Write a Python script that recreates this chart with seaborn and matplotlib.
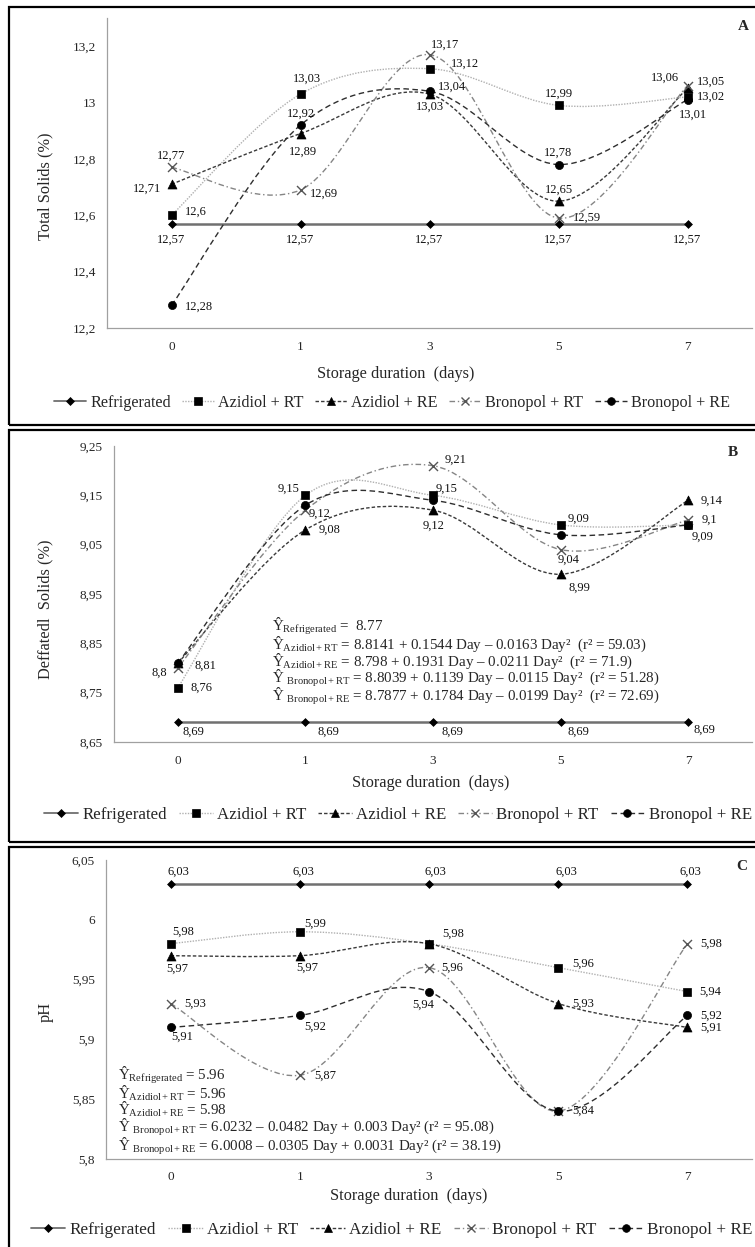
import numpy as np
import pandas as pd
import matplotlib
matplotlib.use("Agg")
import matplotlib.pyplot as plt
from matplotlib.path import Path
from matplotlib.patches import PathPatch, Rectangle
from matplotlib.lines import Line2D
import seaborn as sns

# categories
days = ["0", "1", "3", "5", "7"]
treatments = ["Refrigerated", "Azidiol + RT", "Azidiol + RE", "Bronopol + RT", "Bronopol + RE"]

# A - total solids (%)
ts_refrigerated = [12.57, 12.57, 12.57, 12.57, 12.57]
ts_azidiol_rt = [12.6, 13.03, 13.12, 12.99, 13.02]
ts_azidiol_re = [12.71, 12.89, 13.03, 12.65, 13.05]
ts_bronopol_rt = [12.77, 12.69, 13.17, 12.59, 13.06]
ts_bronopol_re = [12.28, 12.92, 13.04, 12.78, 13.01]
ts_ticks = [12.2, 12.4, 12.6, 12.8, 13.0, 13.2]
ts_ticklabels = ["12,2", "12,4", "12,6", "12,8", "13", "13,2"]

# B - defatted solids (%)
ds_refrigerated = [8.69, 8.69, 8.69, 8.69, 8.69]
ds_azidiol_rt = [8.76, 9.15, 9.15, 9.09, 9.09]
ds_azidiol_re = [8.81, 9.08, 9.12, 8.99, 9.14]
ds_bronopol_rt = [8.80, 9.12, 9.21, 9.04, 9.10]
ds_bronopol_re = [8.81, 9.13, 9.14, 9.07, 9.09]
ds_ticks = [8.65, 8.75, 8.85, 8.95, 9.05, 9.15, 9.25]
ds_ticklabels = ["8,65", "8,75", "8,85", "8,95", "9,05", "9,15", "9,25"]

# C - pH
ph_refrigerated = [6.03, 6.03, 6.03, 6.03, 6.03]
ph_azidiol_rt = [5.98, 5.99, 5.98, 5.96, 5.94]
ph_azidiol_re = [5.97, 5.97, 5.98, 5.93, 5.91]
ph_bronopol_rt = [5.93, 5.87, 5.96, 5.84, 5.98]
ph_bronopol_re = [5.91, 5.92, 5.94, 5.84, 5.92]
ph_ticks = [5.8, 5.85, 5.9, 5.95, 6.0, 6.05]
ph_ticklabels = ["5,8", "5,85", "5,9", "5,95", "6", "6,05"]

# regression equations
eq_b = [
    ("Refrigerated", " =  8.77"),
    ("Azidiol+RT", " = 8.8141 + 0.1544 Day \u2013 0.0163 Day\u00b2  (r\u00b2 = 59.03)"),
    ("Azidiol+RE", " = 8.798 + 0.1931 Day \u2013 0.0211 Day\u00b2  (r\u00b2 = 71.9)"),
    (" Bronopol+RT", " = 8.8039 + 0.1139 Day \u2013 0.0115 Day\u00b2  (r\u00b2 = 51.28)"),
    (" Bronopol+RE", " = 8.7877 + 0.1784 Day \u2013 0.0199 Day\u00b2  (r\u00b2 = 72.69)"),
]
eq_c = [
    ("Refrigerated", " = 5.96"),
    ("Azidiol+RT", " = 5.96"),
    ("Azidiol+RE", " = 5.98"),
    (" Bronopol+RT", " = 6.0232 \u2013 0.0482 Day + 0.003 Day\u00b2 (r\u00b2 = 95.08)"),
    (" Bronopol+RE", " = 6.0008 \u2013 0.0305 Day + 0.0031 Day\u00b2 (r\u00b2 = 38.19)"),
]

sns.set_style("white")
plt.rcParams["font.family"] = ["Liberation Serif", "DejaVu Serif"]
plt.rcParams["mathtext.fontset"] = "custom"
plt.rcParams["mathtext.rm"] = "Liberation Serif"
plt.rcParams["mathtext.it"] = "Liberation Serif:italic"
plt.rcParams["mathtext.bf"] = "Liberation Serif:bold"

styles = {
    "Refrigerated": dict(color="#707070", lw=1.8, ls="-", marker="D", s=16, mc="black", smooth=False),
    "Azidiol + RT": dict(color="#b0b0b0", lw=1.0, ls=(0, (1, 1)), marker="s", s=38, mc="black", smooth=True),
    "Azidiol + RE": dict(color="#3a3a3a", lw=1.0, ls=(0, (2.5, 1.5)), marker="^", s=42, mc="black", smooth=True),
    "Bronopol + RT": dict(color="#858585", lw=1.0, ls=(0, (4, 2, 1, 2)), marker="x", s=42, mc="#555555", smooth=True),
    "Bronopol + RE": dict(color="#2e2e2e", lw=1.0, ls=(0, (4, 2.5)), marker="o", s=34, mc="black", smooth=True),
}

# label offsets (px) per point: (dx, dy, ha) or None
offs_a = {
    "Refrigerated": [(0, -16, "center")] * 5,
    "Azidiol + RT": [(13, 4, "left"), (6, 15, "center"), (21, 5, "left"), (0, 12, "center"), (9, 0, "left")],
    "Azidiol + RE": [(-10, -4, "right"), (2, -18, "center"), (0, -13, "center"), (0, 11, "center"), (9, 7, "left")],
    "Bronopol + RT": [(0, 12, "center"), (9, -4, "left"), (1, 10, "left"), (14, 0, "left"), (-8, 8, "right")],
    "Bronopol + RE": [(13, -1, "left"), (0, 11, "center"), (8, 5, "left"), (0, 12, "center"), (5, -15, "center")],
}
offs_b = {
    "Refrigerated": [(5, -9, "left"), (12, -9, "left"), (9, -9, "left"), (7, -9, "left"), (5, -7, "left")],
    "Azidiol + RT": [(13, 0, "left"), (-6, 7, "right"), (3, 7, "left"), (7, 6, "left"), (14, -12, "center")],
    "Azidiol + RE": [None, (13, 0, "left"), (1, -16, "center"), (19, -13, "center"), (12, 0, "left")],
    "Bronopol + RT": [(-11, -5, "right"), (3, -4, "left"), (12, 6, "left"), (8, -10, "center"), (13, 0, "left")],
    "Bronopol + RE": [(17, -3, "left"), None, None, None, None],
}
offs_c = {
    "Refrigerated": [(8, 12, "center"), (4, 12, "center"), (6, 12, "center"), (8, 12, "center"), (3, 12, "center")],
    "Azidiol + RT": [(2, 12, "left"), (4, 8, "left"), (13, 10, "left"), (14, 4, "left"), (12, 0, "left")],
    "Azidiol + RE": [(7, -13, "center"), (7, -12, "center"), None, (14, 0, "left"), (13, 0, "left")],
    "Bronopol + RT": [(14, 0, "left"), (14, 0, "left"), (12, 0, "left"), (14, 0, "left"), (13, 0, "left")],
    "Bronopol + RE": [(1, -9, "left"), (4, -11, "left"), (-6, -13, "center"), None, (13, 0, "left")],
}

W, H = 755, 1247
fig = plt.figure(figsize=(W / 100, H / 100), dpi=100)


def fx(x):
    return x / W


def fy(y):
    return 1 - y / H


def smooth_path(xs, ys):
    # Excel-like smoothed line through the points (cubic Bezier segments)
    pts = np.column_stack([xs, ys]).astype(float)
    n = len(pts)
    verts, codes = [pts[0]], [Path.MOVETO]
    for i in range(n - 1):
        p0 = pts[i - 1] if i > 0 else pts[i]
        p1, p2 = pts[i], pts[i + 1]
        p3 = pts[i + 2] if i + 2 < n else pts[i + 1]
        verts += [p1 + (p2 - p0) / 6, p2 - (p3 - p1) / 6, p2]
        codes += [Path.CURVE4] * 3
    return Path(verts, codes)


def fmt(v):
    return f"{v:g}".replace(".", ",")


def draw_panel(box, values, offs, ylim, ticks, ticklabels, ylabel, ylab_xy, xlab_xy, letter, letter_xy):
    left, right, top, bottom = box
    ax = fig.add_axes([fx(left), fy(bottom), fx(right) - fx(left), fy(top) - fy(bottom)])
    ax.set_facecolor("none")
    pos = np.arange(len(days))
    df = pd.DataFrame({"pos": np.tile(pos, len(treatments)),
                       "value": np.concatenate([values[t] for t in treatments]),
                       "treatment": np.repeat(treatments, len(days))})
    for t in treatments:
        st = styles[t]
        sub = df[df["treatment"] == t]
        if st["smooth"]:
            ax.add_patch(PathPatch(smooth_path(sub["pos"], sub["value"]), fill=False,
                                   ec=st["color"], lw=st["lw"], ls=st["ls"], zorder=2))
        else:
            sns.lineplot(data=sub, x="pos", y="value", color=st["color"], lw=st["lw"], ax=ax, zorder=2)
    for t in treatments:
        st = styles[t]
        sub = df[df["treatment"] == t]
        if st["marker"] == "x":
            sns.scatterplot(data=sub, x="pos", y="value", marker="x", s=st["s"], color=st["mc"],
                            linewidth=1.0, ax=ax, zorder=4)
        else:
            sns.scatterplot(data=sub, x="pos", y="value", marker=st["marker"], s=st["s"], color=st["mc"],
                            edgecolor=st["mc"], linewidth=0.5, ax=ax, zorder=4)
        for i, v in enumerate(values[t]):
            o = offs[t][i]
            if o is None:
                continue
            ax.annotate(fmt(v), (pos[i], v), xytext=(o[0], o[1]), textcoords="offset pixels",
                        ha=o[2], va="center", fontsize=9, color="#111111", zorder=5)
    ax.set_xlim(-0.5, len(days) - 0.5)
    ax.set_ylim(*ylim)
    ax.set_xticks(pos)
    ax.set_xticklabels(days)
    ax.set_xticks(np.arange(len(days) + 1) - 0.5, minor=True)
    ax.set_yticks(ticks)
    ax.set_yticklabels(ticklabels)
    ax.tick_params(axis="x", which="major", length=0, pad=9, labelsize=9.5)
    ax.tick_params(axis="x", which="minor", length=4, width=0.8, color="#999999", direction="out")
    ax.tick_params(axis="y", length=4, width=0.8, color="#999999", direction="out", pad=4, labelsize=9.5)
    for s in ["top", "right"]:
        ax.spines[s].set_visible(False)
    for s in ["left", "bottom"]:
        ax.spines[s].set_color("#a0a0a0")
        ax.spines[s].set_linewidth(0.9)
    ax.set_xlabel("Storage duration  (days)", fontsize=11.7)
    ax.xaxis.set_label_coords(*xlab_xy)
    ax.xaxis.label.set_va("center")
    ax.set_ylabel(ylabel, fontsize=11.8)
    ax.yaxis.set_label_coords(*ylab_xy)
    ax.yaxis.label.set_va("center")
    fig.text(fx(letter_xy[0]), fy(letter_xy[1]), letter, fontsize=11, fontweight="bold",
             ha="center", va="center")
    return ax


def draw_equations(eqs, x, y_top, step):
    lines = []
    for name, rest in eqs:
        sub = name.strip()
        lead = "\\ " if name.startswith(" ") else ""
        lines.append("\u0176$" + lead + "_{\\mathrm{" + sub + "}}$" + rest)
    # short constant lines and the long quadratic lines as two blocks
    for start, stop in [(0, 3), (3, len(lines))]:
        fig.text(fx(x), fy(y_top + start * step), "\n".join(lines[start:stop]), fontsize=10.8,
                 ha="left", va="top", linespacing=0.83)


def draw_legend(xc, yc, size):
    handles = []
    for t in treatments:
        st = styles[t]
        handles.append(Line2D([], [], color=st["color"], lw=st["lw"] if t != "Refrigerated" else 1.3,
                              ls=st["ls"], marker=st["marker"], markersize=np.sqrt(st["s"]) * 0.95,
                              markerfacecolor=st["mc"], markeredgecolor=st["mc"],
                              markeredgewidth=1.0 if st["marker"] == "x" else 0.5))
    fig.legend(handles, treatments, loc="center", bbox_to_anchor=(fx(xc), fy(yc)), ncol=5,
               frameon=False, fontsize=size, handlelength=2.0, handletextpad=0.25,
               columnspacing=0.7, borderaxespad=0, borderpad=0)


vals_a = dict(zip(treatments, [ts_refrigerated, ts_azidiol_rt, ts_azidiol_re, ts_bronopol_rt, ts_bronopol_re]))
vals_b = dict(zip(treatments, [ds_refrigerated, ds_azidiol_rt, ds_azidiol_re, ds_bronopol_rt, ds_bronopol_re]))
vals_c = dict(zip(treatments, [ph_refrigerated, ph_azidiol_rt, ph_azidiol_re, ph_bronopol_rt, ph_bronopol_re]))

draw_panel((107, 752, 18, 328), vals_a, offs_a, (12.2, 13.3), ts_ticks, ts_ticklabels,
           "Total Solids (%)", (-0.096, 0.458), (0.448, -0.148), "A", (743, 27))
draw_panel((114, 752, 446, 742), vals_b, offs_b, (8.65, 9.25), ds_ticks, ds_ticklabels,
           "Deffatedl  Solids (%)", (-0.108, 0.449), (0.497, -0.139), "B", (733, 453))
draw_panel((106, 752, 860, 1159), vals_c, offs_c, (5.8, 6.05), ph_ticks, ph_ticklabels,
           "pH", (-0.094, 0.492), (0.469, -0.124), "C", (742, 866))

draw_equations(eq_b, 272, 616, 17.3)
draw_equations(eq_c, 118, 1065, 17.5)

draw_legend(392, 403, 11.6)
draw_legend(398, 815, 12.2)
draw_legend(392, 1230, 12.4)

# panel frames
for top, bottom in [(7, 425), (430, 842), (847, 1265)]:
    fig.patches.append(Rectangle((fx(9), fy(bottom)), fx(770) - fx(9), fy(top) - fy(bottom),
                                 transform=fig.transFigure, fill=False, ec="black", lw=1.6))

fig.savefig("out.png", dpi=100)
